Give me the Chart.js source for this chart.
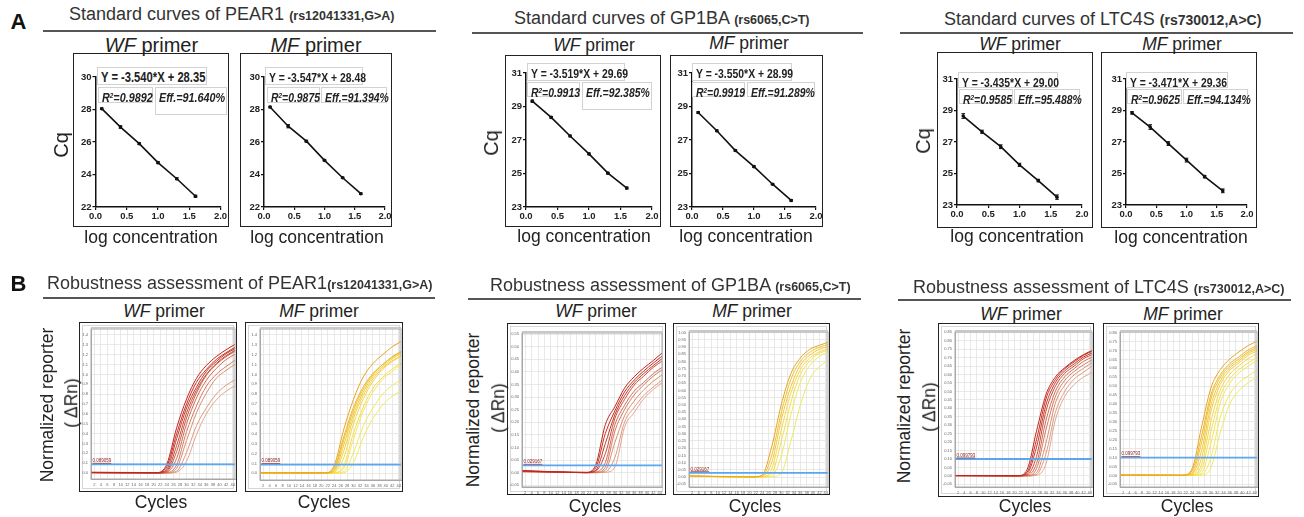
<!DOCTYPE html>
<html>
<head>
<meta charset="utf-8">
<script src="https://cdn.jsdelivr.net/npm/chart.js@4.4.1/dist/chart.umd.min.js"></script>
<style>
    html, body { margin: 0; padding: 0; background: #fff; }
    body { width: 1304px; height: 517px; position: relative; overflow: hidden;
        font-family: "Liberation Sans", Arial, sans-serif; color: #222; }
    .t { position: absolute; white-space: nowrap; line-height: 1; }
    .c { transform: translate(-50%, -50%); }
    .l { transform: translateY(-50%); }
    .r { transform: translate(-50%, -50%) rotate(-90deg); }
    .rs { font-weight: bold; font-size: 12.5px; }
    .rule { position: absolute; height: 1.5px; background: #555; }
    .box { position: absolute; border: 1.5px solid #222; box-sizing: border-box; }
    .inner { position: absolute; border: 1px solid #d6d6d6; box-sizing: border-box; }
    .eq { position: absolute; border: 1px solid #d2d2d2; box-sizing: border-box; background: #fff;
        padding: 1px 0 0 3px; white-space: nowrap; line-height: 15px; overflow: visible; }
    .eq span { display: inline-block; transform: scaleX(0.8); transform-origin: left center;
        font-weight: bold; font-size: 13px; }
    .eq i sup { font-size: 8px; vertical-align: 4px; line-height: 0; }
    canvas { position: absolute; }
</style>
</head>
<body>
<script>
    // ---- Standard curves (Cq vs log concentration) ----
    const concLog = [0.1, 0.4, 0.7, 1.0, 1.3, 1.6];
    const logTicks = [0, 0.5, 1.0, 1.5, 2.0];
    const cqTicksPear1 = [22, 24, 26, 28, 30];
    const cqTicksOther = [23, 25, 27, 29, 31];

    const cqPear1WF = [28.05, 26.92, 25.90, 24.73, 23.74, 22.66];
    const cqPear1MF = [28.15, 26.97, 26.05, 24.87, 23.80, 22.82];
    const cqGp1baWF = [29.32, 28.35, 27.24, 26.17, 25.02, 24.13];
    const cqGp1baMF = [28.64, 27.55, 26.37, 25.41, 24.36, 23.39];
    const cqLtc4sWF = [28.65, 27.65, 26.70, 25.55, 24.55, 23.50];
    const cqLtc4sMF = [28.85, 27.95, 26.90, 25.85, 24.80, 23.90];

    const sdPear1WF = [0.05, 0.08, 0.05, 0.06, 0.06, 0.07];
    const sdPear1MF = [0.05, 0.10, 0.06, 0.04, 0.04, 0.05];
    const sdGp1baWF = [0.06, 0.05, 0.05, 0.05, 0.05, 0.06];
    const sdGp1baMF = [0.05, 0.05, 0.05, 0.05, 0.04, 0.05];
    const sdLtc4sWF = [0.15, 0.10, 0.12, 0.10, 0.08, 0.14];
    const sdLtc4sMF = [0.08, 0.15, 0.12, 0.12, 0.08, 0.12];

    // ---- Amplification curves (ΔRn vs cycle), read at these cycles ----
    const cycles = [1, 21, 24, 27, 30, 33, 36, 39, 42, 45];
    const cycleTicks = [2, 4, 6, 8, 10, 12, 14, 16, 18, 20, 22, 24, 26, 28, 30, 32, 34, 36, 38, 40, 42, 44];

    const rnPear1WF = [
        [0.008, 0.005, 0.09, 0.46, 0.75, 0.96, 1.09, 1.18, 1.25, 1.31],
        [0.007, 0.004, 0.065, 0.40, 0.70, 0.92, 1.05, 1.15, 1.22, 1.28],
        [0.006, 0.003, 0.04, 0.35, 0.66, 0.87, 1.03, 1.13, 1.21, 1.265],
        [0.006, 0.002, 0.025, 0.28, 0.61, 0.84, 1.00, 1.11, 1.19, 1.25],
        [0.005, 0.001, 0.015, 0.22, 0.56, 0.81, 0.99, 1.10, 1.18, 1.24],
        [0.005, 0.001, 0.01, 0.15, 0.50, 0.76, 0.94, 1.06, 1.15, 1.21],
        [0.004, 0, 0.005, 0.085, 0.42, 0.68, 0.88, 1.00, 1.08, 1.15],
        [0.004, 0, 0.002, 0.05, 0.33, 0.61, 0.81, 0.96, 1.04, 1.11],
        [0.003, 0, 0.001, 0.02, 0.21, 0.48, 0.66, 0.80, 0.89, 0.95],
        [0.003, 0, 0, 0.01, 0.12, 0.39, 0.60, 0.74, 0.83, 0.89],
    ];
    const rnPear1MF = [
        [0.006, 0.005, 0.08, 0.45, 0.75, 0.975, 1.11, 1.20, 1.28, 1.34],
        [0.006, 0.004, 0.056, 0.375, 0.67, 0.875, 1.01, 1.10, 1.18, 1.24],
        [0.005, 0.003, 0.04, 0.34, 0.64, 0.85, 1.00, 1.10, 1.175, 1.23],
        [0.005, 0.001, 0.027, 0.29, 0.60, 0.82, 0.98, 1.08, 1.16, 1.22],
        [0.004, 0.001, 0.018, 0.23, 0.56, 0.79, 0.955, 1.065, 1.14, 1.20],
        [0.004, 0.001, 0.011, 0.16, 0.505, 0.75, 0.93, 1.05, 1.13, 1.19],
        [0.003, 0, 0.005, 0.082, 0.41, 0.67, 0.86, 0.97, 1.055, 1.12],
        [0.003, 0, 0.004, 0.053, 0.35, 0.63, 0.82, 0.95, 1.03, 1.11],
        [0.002, 0, 0.001, 0.02, 0.21, 0.48, 0.66, 0.80, 0.89, 0.95],
        [0.002, 0, 0, 0.007, 0.11, 0.365, 0.555, 0.69, 0.78, 0.84],
    ];
    const rnGp1baWF = [
        [0.008, 0.001, 0.03, 0.19, 0.262, 0.335, 0.38, 0.415, 0.445, 0.478],
        [0.007, 0.001, 0.019, 0.155, 0.245, 0.32, 0.367, 0.403, 0.435, 0.465],
        [0.006, 0, 0.009, 0.115, 0.23, 0.305, 0.357, 0.393, 0.425, 0.455],
        [0.006, 0, 0.006, 0.075, 0.215, 0.29, 0.347, 0.383, 0.418, 0.445],
        [0.005, 0, 0.002, 0.04, 0.19, 0.267, 0.323, 0.358, 0.393, 0.42],
        [0.005, 0, 0.001, 0.02, 0.165, 0.25, 0.308, 0.348, 0.383, 0.41],
        [0.004, 0, 0, 0.009, 0.12, 0.225, 0.284, 0.328, 0.363, 0.39],
        [0.004, 0, 0, 0.003, 0.06, 0.2, 0.258, 0.306, 0.34, 0.37],
        [0.003, 0, 0, 0.001, 0.022, 0.18, 0.238, 0.293, 0.33, 0.36],
    ];
    const rnGp1baMF = [
        [0.008, 0.001, 0.014, 0.21, 0.50, 0.715, 0.825, 0.885, 0.913, 0.935],
        [0.008, 0, 0.007, 0.15, 0.445, 0.675, 0.80, 0.865, 0.90, 0.92],
        [0.007, 0, 0.005, 0.10, 0.395, 0.625, 0.775, 0.845, 0.885, 0.905],
        [0.007, 0, 0.003, 0.055, 0.325, 0.58, 0.745, 0.825, 0.868, 0.89],
        [0.006, 0, 0.002, 0.025, 0.245, 0.515, 0.71, 0.805, 0.857, 0.88],
        [0.006, 0, 0, 0.007, 0.145, 0.43, 0.655, 0.775, 0.835, 0.87],
        [0.005, 0, 0, 0.002, 0.027, 0.245, 0.50, 0.68, 0.765, 0.81],
    ];
    const rnLtc4sWF = [
        [0.002, 0.001, 0.037, 0.265, 0.48, 0.585, 0.64, 0.683, 0.718, 0.745],
        [0.002, 0.001, 0.022, 0.215, 0.455, 0.57, 0.634, 0.675, 0.714, 0.74],
        [0.002, 0, 0.013, 0.17, 0.42, 0.552, 0.622, 0.663, 0.704, 0.73],
        [0.001, 0, 0.006, 0.115, 0.383, 0.53, 0.607, 0.65, 0.694, 0.72],
        [0.001, 0, 0.003, 0.073, 0.327, 0.5, 0.587, 0.635, 0.678, 0.705],
        [0.001, 0, 0.001, 0.043, 0.272, 0.468, 0.565, 0.618, 0.658, 0.69],
        [0.001, 0, 0, 0.018, 0.194, 0.43, 0.537, 0.598, 0.637, 0.675],
        [0.001, 0, 0, 0.008, 0.13, 0.375, 0.5, 0.573, 0.614, 0.655],
        [0.001, 0, 0, 0.003, 0.07, 0.33, 0.47, 0.54, 0.585, 0.615],
    ];
    const rnLtc4sMF = [
        [0.002, 0.001, 0.038, 0.27, 0.49, 0.593, 0.652, 0.693, 0.729, 0.755],
        [0.002, 0.001, 0.026, 0.22, 0.452, 0.564, 0.626, 0.666, 0.704, 0.73],
        [0.002, 0.001, 0.015, 0.182, 0.429, 0.549, 0.614, 0.654, 0.694, 0.72],
        [0.001, 0, 0.009, 0.137, 0.394, 0.53, 0.602, 0.643, 0.685, 0.71],
        [0.001, 0, 0.004, 0.096, 0.359, 0.51, 0.589, 0.632, 0.675, 0.70],
        [0.001, 0, 0.002, 0.06, 0.304, 0.479, 0.566, 0.616, 0.656, 0.685],
        [0.001, 0, 0.001, 0.035, 0.245, 0.445, 0.54, 0.594, 0.632, 0.665],
        [0.001, 0, 0, 0.015, 0.179, 0.406, 0.516, 0.576, 0.613, 0.65],
        [0.001, 0, 0, 0.005, 0.099, 0.328, 0.454, 0.521, 0.558, 0.595],
        [0.001, 0, 0, 0.002, 0.042, 0.24, 0.40, 0.477, 0.521, 0.555],
    ];

    const rnTicksPear1 = [0, 0.1, 0.2, 0.3, 0.4, 0.5, 0.6, 0.7, 0.8, 0.9, 1.0, 1.1, 1.2, 1.3, 1.4];
    const rnTicksGp1baWF = [-0.05, 0, 0.05, 0.1, 0.15, 0.2, 0.25, 0.3, 0.35, 0.4, 0.45, 0.5, 0.55];
    const rnTicksGp1baMF = [-0.05, 0, 0.05, 0.1, 0.15, 0.2, 0.25, 0.3, 0.35, 0.4, 0.45, 0.5, 0.55,
        0.6, 0.65, 0.7, 0.75, 0.8, 0.85, 0.9, 0.95, 1.0];
    const rnTicksLtc4sWF = [-0.05, 0, 0.05, 0.1, 0.15, 0.2, 0.25, 0.3, 0.35, 0.4, 0.45, 0.5, 0.55,
        0.6, 0.65, 0.7, 0.75, 0.8, 0.85];
    const rnTicksLtc4sMF = [-0.05, 0, 0.05, 0.1, 0.15, 0.2, 0.25, 0.3, 0.35, 0.4, 0.45, 0.5, 0.55,
        0.6, 0.65, 0.7, 0.75, 0.8];

    const thrPear1 = 0.089059;
    const thrGp1ba = 0.029167;
    const thrLtc4s = 0.099793;

    const wfColors = ["#c0241a", "#c83022", "#bf3a2c", "#cc4a36", "#c85a44",
        "#d26a52", "#d27a60", "#dc8c70", "#dc9a80", "#e2a68c"];
    const mfColors = ["#e8a41e", "#eeb428", "#f0c030", "#f2c836", "#f4d040",
        "#f2d846", "#f5de4e", "#f6e456", "#f2e858", "#eeea5e"];

    const FONT = '"Liberation Sans", Arial, sans-serif';

    /* ---------- page helpers ---------- */
    function text(html, x, y, size, cls, color) {
        const d = document.createElement("div");
        d.className = "t " + (cls || "c");
        d.style.left = x + "px";
        d.style.top = y + "px";
        d.style.fontSize = size + "px";
        if (color) d.style.color = color;
        d.innerHTML = html;
        document.body.appendChild(d);
        return d;
    }

    function rule(x0, x1, y) {
        const d = document.createElement("div");
        d.className = "rule";
        Object.assign(d.style, { left: x0 + "px", top: y + "px", width: (x1 - x0) + "px" });
        document.body.appendChild(d);
    }

    function rect(cls, r) {
        const d = document.createElement("div");
        d.className = cls;
        Object.assign(d.style, { left: r[0] + "px", top: r[1] + "px",
            width: (r[2] - r[0]) + "px", height: (r[3] - r[1]) + "px" });
        document.body.appendChild(d);
        return d;
    }

    function eq(r, html, size) {
        const d = rect("eq", r);
        d.innerHTML = `<span style="font-size:${size || 13}px">${html}</span>`;
    }

    /** canvas larger than the box so tick labels never squeeze the chart area */
    function makeCanvas(box, area) {
        const M = 12;
        const cx = box[0] - M, cy = box[1] - M;
        const cw = box[2] - box[0] + 2 * M, ch = box[3] - box[1] + 2 * M;
        const cv = document.createElement("canvas");
        cv.width = cw; cv.height = ch;
        Object.assign(cv.style, { left: cx + "px", top: cy + "px", width: cw + "px", height: ch + "px" });
        document.body.appendChild(cv);
        return {
            ctx: cv.getContext("2d"),
            pad: { top: area[1] - cy, right: cx + cw - area[2], left: 0, bottom: 0 },
            yw: area[0] - cx,
            xh: cy + ch - area[3],
        };
    }

    /* ---------- plugins ---------- */
    const errBars = {
        id: "errBars",
        afterDatasetsDraw(chart, args, opts) {
            const { ctx, scales: { x, y } } = chart;
            const ys = opts.ys, sd = opts.sd;
            if (!ys || !sd) return;
            ctx.save();
            ctx.strokeStyle = "#111";
            ctx.lineWidth = 1;
            concLog.forEach((c, i) => {
                const px = x.getPixelForValue(c);
                const y1 = y.getPixelForValue(ys[i] + sd[i]);
                const y2 = y.getPixelForValue(ys[i] - sd[i]);
                ctx.beginPath();
                ctx.moveTo(px, y1); ctx.lineTo(px, y2);
                ctx.moveTo(px - 1.8, y1); ctx.lineTo(px + 1.8, y1);
                ctx.moveTo(px - 1.8, y2); ctx.lineTo(px + 1.8, y2);
                ctx.stroke();
            });
            ctx.restore();
        },
    };

    const plotFrame = {
        id: "plotFrame",
        afterDraw(chart) {
            const { ctx, chartArea: a } = chart;
            ctx.save();
            ctx.strokeStyle = "#a8a8a8";
            ctx.lineWidth = 1;
            ctx.strokeRect(a.left, a.top, a.right - a.left, a.bottom - a.top);
            ctx.fillStyle = "#c8c8c8";
            ctx.fillRect(a.left, a.top - 2, a.right - a.left, 2);
            ctx.restore();
        },
    };

    const thrLabel = {
        id: "thrLabel",
        afterDatasetsDraw(chart, args, opts) {
            if (opts.value === undefined) return;
            const { ctx, chartArea: a, scales: { y } } = chart;
            const py = y.getPixelForValue(opts.value);
            ctx.save();
            ctx.font = "4.5px " + FONT;
            ctx.fillStyle = "#8a1c1c";
            ctx.textBaseline = "bottom";
            ctx.fillText(opts.text, a.left + 1.5, py - 1.2);
            const w = ctx.measureText(opts.text).width;
            ctx.fillRect(a.left + 1.5, py - 1.4, w, 0.6);
            ctx.restore();
        },
    };

    /* ---------- chart builders ---------- */
    function stdChart(box, area, ys, sd, yMin, yMax, yTicks) {
        rect("box", box);
        const k = makeCanvas(box, area);
        const tickFont = { family: FONT, size: 9.5, weight: "bold" };
        const axisGrid = { display: true, drawOnChartArea: false, tickLength: 3, color: "#111", lineWidth: 1.2 };
        new Chart(k.ctx, {
            type: "scatter",
            data: {
                datasets: [{
                    data: concLog.map((x, i) => ({ x, y: ys[i] })),
                    showLine: true, borderColor: "#111", borderWidth: 1.6,
                    pointRadius: 1.8, pointBackgroundColor: "#111", pointBorderWidth: 0,
                }],
            },
            options: {
                responsive: false, animation: false, events: [],
                layout: { padding: k.pad },
                plugins: { legend: { display: false }, tooltip: { enabled: false }, errBars: { ys, sd } },
                scales: {
                    x: {
                        type: "linear", min: 0, max: 2,
                        afterBuildTicks: s => { s.ticks = logTicks.map(v => ({ value: v })); },
                        afterFit: s => { s.height = k.xh; },
                        ticks: { callback: v => Number(v).toFixed(1), font: tickFont, color: "#222",
                            padding: 1, maxRotation: 0, autoSkip: false },
                        grid: axisGrid,
                        border: { color: "#111", width: 1.5 },
                    },
                    y: {
                        min: yMin, max: yMax,
                        afterBuildTicks: s => { s.ticks = yTicks.map(v => ({ value: v })); },
                        afterFit: s => { s.width = k.yw; },
                        ticks: { callback: v => String(v), font: tickFont, color: "#222", padding: 1, autoSkip: false },
                        grid: axisGrid,
                        border: { color: "#111", width: 1.5 },
                    },
                },
            },
            plugins: [errBars],
        });
    }

    function ampChart(box, area, curves, colors, yMin, yMax, yTicks, decimals, thr) {
        rect("box", box);
        rect("inner", [box[0] + 3, box[1] + 3, box[2] - 3, box[3] - 3]);
        const k = makeCanvas(box, area);
        const n = curves.length;
        const datasets = curves.map((vals, i) => ({
            data: cycles.map((c, j) => ({ x: c, y: vals[j] })),
            borderColor: colors[Math.round(i * (colors.length - 1) / Math.max(n - 1, 1))],
            borderWidth: 1, pointRadius: 0, fill: false, cubicInterpolationMode: "monotone",
        }));
        datasets.unshift({
            data: [{ x: cycles[0], y: thr }, { x: cycles[cycles.length - 1], y: thr }],
            borderColor: "#5aa6f0", borderWidth: 1.8, pointRadius: 0, fill: false,
        });
        const tickFont = { family: FONT, size: 4 };
        const gridStyle = { color: "#e3e3e3", lineWidth: 0.8, drawTicks: false };
        new Chart(k.ctx, {
            type: "line",
            data: { datasets },
            options: {
                responsive: false, animation: false, events: [],
                layout: { padding: k.pad },
                plugins: {
                    legend: { display: false }, tooltip: { enabled: false },
                    thrLabel: { value: thr, text: String(thr) },
                },
                scales: {
                    x: {
                        type: "linear", min: 1, max: 44.7,
                        afterBuildTicks: s => { s.ticks = cycleTicks.map(v => ({ value: v })); },
                        afterFit: s => { s.height = k.xh; },
                        ticks: { font: tickFont, color: "#666", padding: 3, maxRotation: 0, autoSkip: false },
                        grid: gridStyle,
                        border: { color: "#a8a8a8", width: 1 },
                    },
                    y: {
                        type: "linear", min: yMin, max: yMax,
                        afterBuildTicks: s => { s.ticks = yTicks.map(v => ({ value: v })); },
                        afterFit: s => { s.width = k.yw; },
                        ticks: { callback: v => Number(v).toFixed(decimals), font: tickFont, color: "#666",
                            padding: 3, autoSkip: false },
                        grid: gridStyle,
                        border: { color: "#a8a8a8", width: 1 },
                    },
                },
            },
            plugins: [plotFrame, thrLabel],
        });
    }

    /* ---------- Panel A ---------- */
    text("A", 18.5, 21.5, 22, "c", "#111").style.fontWeight = "bold";
    text('Standard curves of PEAR1 <span class="rs">(rs12041331,G&gt;A)</span>', 69, 14, 18, "l", "#333");
    text('Standard curves of GP1BA <span class="rs">(rs6065,C&gt;T)</span>', 514, 18, 18, "l", "#333");
    text('Standard curves of LTC4S <span class="rs" style="font-size:14px">(rs730012,A&gt;C)</span>', 944, 19, 18, "l", "#333");
    rule(43, 436, 30);
    rule(472, 863, 32);
    rule(900, 1293, 32);

    text("<i>WF</i> primer", 151.5, 45, 20);
    text("<i>MF</i> primer", 316, 45, 20);
    text("<i>WF</i> primer", 594, 46, 17.5);
    text("<i>MF</i> primer", 749, 44, 17.5);
    text("<i>WF</i> primer", 1020, 45, 17.5);
    text("<i>MF</i> primer", 1182, 45, 17.5);

    stdChart([73, 53, 229, 227], [95.5, 77, 220.5, 207], cqPear1WF, sdPear1WF, 22, 30, cqTicksPear1);
    stdChart([240, 53, 392, 227], [264, 77, 385, 207], cqPear1MF, sdPear1MF, 22, 30, cqTicksPear1);
    stdChart([505, 55, 661, 227], [526, 73, 652, 207], cqGp1baWF, sdGp1baWF, 23, 31, cqTicksOther);
    stdChart([670, 55, 823, 227], [692, 73, 816, 207], cqGp1baMF, sdGp1baMF, 23, 31, cqTicksOther);
    stdChart([937, 52, 1093, 228], [957, 79, 1082, 205], cqLtc4sWF, sdLtc4sWF, 23, 31, cqTicksOther);
    stdChart([1101, 52, 1257, 228], [1126, 79, 1247, 205], cqLtc4sMF, sdLtc4sMF, 23, 31, cqTicksOther);

    eq([97, 67, 207, 85], "Y = -3.540*X + 28.35", 14);
    eq([98, 87, 153, 103], "<i>R<sup>2</sup>=0.9892</i>", 13.5);
    eq([155, 87, 227, 115], "<i>Eff.=91.640%</i>", 13.5);
    eq([265, 67, 363, 85], "Y = -3.547*X + 28.48", 13);
    eq([267, 87, 320, 103], "<i>R<sup>2</sup>=0.9875</i>");
    eq([321, 87, 387, 103], "<i>Eff.=91.394%</i>");
    eq([527, 63, 625, 81], "Y = -3.519*X + 29.69");
    eq([527, 82, 580, 97], "<i>R<sup>2</sup>=0.9913</i>");
    eq([582, 82, 652, 110], "<i>Eff.=92.385%</i>");
    eq([692, 63, 792, 81], "Y = -3.550*X + 28.99");
    eq([692, 82, 745, 97], "<i>R<sup>2</sup>=0.9919</i>");
    eq([747, 82, 815, 97], "<i>Eff.=91.289%</i>");
    eq([958, 72, 1058, 88], "Y = -3.435*X + 29.00");
    eq([959, 89, 1013, 104], "<i>R<sup>2</sup>=0.9585</i>");
    eq([1014, 89, 1080, 104], "<i>Eff.=95.488%</i>");
    eq([1126, 72, 1228, 88], "Y = -3.471*X + 29.36");
    eq([1127, 89, 1182, 104], "<i>R<sup>2</sup>=0.9625</i>");
    eq([1183, 89, 1248, 104], "<i>Eff.=94.134%</i>");

    text("Cq", 61, 145, 20, "r");
    text("Cq", 491, 143, 20, "r");
    text("Cq", 923, 141, 20, "r");
    text("log concentration", 151, 238, 17.5);
    text("log concentration", 317, 238, 17.5);
    text("log concentration", 584, 237, 17.5);
    text("log concentration", 746, 237, 17.5);
    text("log concentration", 1017, 237, 17.5);
    text("log concentration", 1181, 238, 17.5);

    /* ---------- Panel B ---------- */
    text("B", 18.5, 284, 22, "c", "#111").style.fontWeight = "bold";
    text('Robustness assessment of PEAR1<span class="rs">(rs12041331,G&gt;A)</span>', 47, 283, 18, "l", "#333");
    text('Robustness assessment of GP1BA <span class="rs">(rs6065,C&gt;T)</span>', 490, 285, 18, "l", "#333");
    text('Robustness assessment of LTC4S <span class="rs">(rs730012,A&gt;C)</span>', 913, 287, 18, "l", "#333");
    rule(43, 435, 297);
    rule(468, 861, 298);
    rule(898, 1291, 299);

    text("<i>WF</i> primer", 164, 312, 17.5);
    text("<i>MF</i> primer", 319, 312, 17.5);
    text("<i>WF</i> primer", 596, 312, 17.5);
    text("<i>MF</i> primer", 752, 312, 17.5);
    text("<i>WF</i> primer", 1021, 315, 17.5);
    text("<i>MF</i> primer", 1183, 315, 17.5);

    ampChart([79, 322, 237, 492], [91, 329, 235, 479], rnPear1WF, wfColors, -0.06, 1.46, rnTicksPear1, 1, thrPear1);
    ampChart([245, 322, 403, 492], [260, 329, 401, 480], rnPear1MF, mfColors, -0.067, 1.46, rnTicksPear1, 1, thrPear1);
    ampChart([507, 323, 666, 495], [522, 333, 662, 487], rnGp1baWF, wfColors, -0.057, 0.554, rnTicksGp1baWF, 2, thrGp1ba);
    ampChart([673, 323, 830, 495], [689, 332, 828, 487], rnGp1baMF, mfColors, -0.069, 1.005, rnTicksGp1baMF, 2, thrGp1ba);
    ampChart([938, 323, 1094, 497], [955, 332, 1092, 487], rnLtc4sWF, wfColors, -0.066, 0.852, rnTicksLtc4sWF, 2, thrLtc4s);
    ampChart([1103, 323, 1259, 497], [1120, 332, 1257, 487], rnLtc4sMF, mfColors, -0.065, 0.804, rnTicksLtc4sMF, 2, thrLtc4s);

    text("Normalized reporter", 48, 405, 17.5, "r");
    text("( ΔRn)", 72, 403, 17.5, "r");
    text("Normalized reporter", 474, 410, 17.5, "r");
    text("( ΔRn)", 499, 408, 17.5, "r");
    text("Normalized reporter", 905, 406, 17.5, "r");
    text("( ΔRn)", 930, 407, 17.5, "r");

    text("Cycles", 161, 503, 17.5);
    text("Cycles", 324, 503, 17.5);
    text("Cycles", 595, 507, 17.5);
    text("Cycles", 755, 507, 17.5);
    text("Cycles", 1025, 507, 17.5);
    text("Cycles", 1187, 507, 17.5);
</script>
</body>
</html>
